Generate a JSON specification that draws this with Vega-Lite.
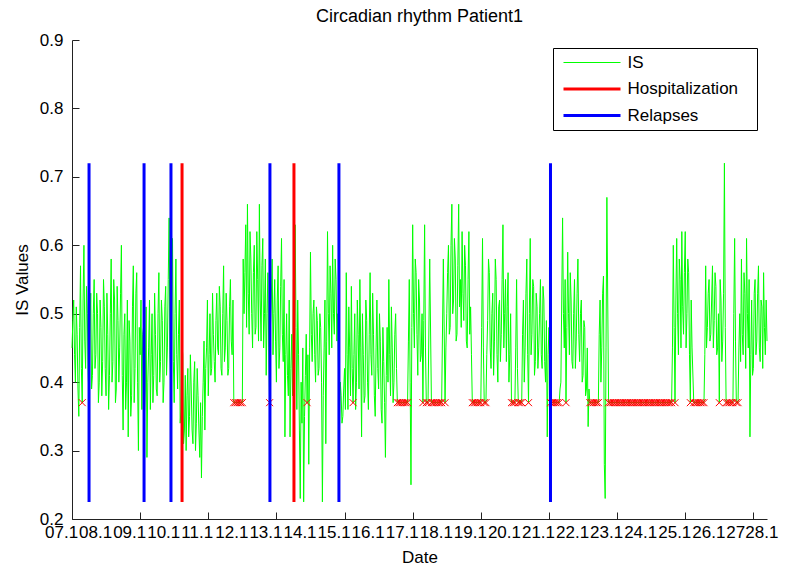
{
"$schema": "https://vega.github.io/schema/vega-lite/v6.json",
"width": 695, "height": 479,
"autosize": {"type": "none"},
"padding": {"left": 72, "top": 40, "right": 24, "bottom": 50},
"background": "white",
"title": {"text": "Circadian rhythm Patient1", "fontSize": 18, "fontWeight": "normal", "font": "Liberation Sans", "color": "black", "offset": 5},
"config": {
  "view": {"stroke": null},
  "axis": {"labelFont": "Liberation Sans", "labelFontSize": 17, "labelColor": "black", "titleFont": "Liberation Sans", "titleFontSize": 17, "titleFontWeight": "normal", "titleColor": "black", "domainColor": "#222222", "tickColor": "#222222", "grid": false, "labelOverlap": false, "labelFlush": false}
},
"datasets": {
"is": [
{"x":0,"v":0.45},{"x":1,"v":0.52},{"x":2,"v":0.40},{"x":3,"v":0.47},{"x":4,"v":0.35},{"x":5,"v":0.57},{"x":6,"v":0.37,"m":1},{"x":7,"v":0.60},{"x":8,"v":0.42},{"x":9,"v":0.50},
{"x":10,"v":0.38},{"x":11,"v":0.53},{"x":12,"v":0.41},{"x":13,"v":0.55},{"x":14,"v":0.44},{"x":15,"v":0.50},{"x":16,"v":0.40},{"x":17,"v":0.48},{"x":18,"v":0.43},{"x":19,"v":0.51},
{"x":20,"v":0.38},{"x":21,"v":0.47},{"x":22,"v":0.41},{"x":23,"v":0.58},{"x":24,"v":0.43},{"x":25,"v":0.52},{"x":26,"v":0.39},{"x":27,"v":0.49},{"x":28,"v":0.45},{"x":29,"v":0.60},
{"x":30,"v":0.33},{"x":31,"v":0.50},{"x":32,"v":0.40},{"x":33,"v":0.32},{"x":34,"v":0.46},{"x":35,"v":0.38},{"x":36,"v":0.57},{"x":37,"v":0.42},{"x":38,"v":0.56},{"x":39,"v":0.30},
{"x":40,"v":0.44},{"x":41,"v":0.36},{"x":42,"v":0.48},{"x":43,"v":0.39},{"x":44,"v":0.29},{"x":45,"v":0.45},{"x":46,"v":0.36},{"x":47,"v":0.50},{"x":48,"v":0.41},{"x":49,"v":0.47},
{"x":50,"v":0.38},{"x":51,"v":0.56},{"x":52,"v":0.43},{"x":53,"v":0.49},{"x":54,"v":0.40},{"x":55,"v":0.54},{"x":56,"v":0.45},{"x":57,"v":0.64},{"x":58,"v":0.40},{"x":59,"v":0.61},
{"x":60,"v":0.37},{"x":61,"v":0.58},{"x":62,"v":0.39},{"x":63,"v":0.52},{"x":64,"v":0.36},{"x":65,"v":0.44},{"x":66,"v":0.33},{"x":67,"v":0.30},{"x":68,"v":0.42},{"x":69,"v":0.35},
{"x":70,"v":0.39},{"x":71,"v":0.31},{"x":72,"v":0.43},{"x":73,"v":0.34},{"x":74,"v":0.38},{"x":75,"v":0.29},{"x":76,"v":0.26},{"x":77,"v":0.40},{"x":78,"v":0.33},{"x":79,"v":0.45},
{"x":80,"v":0.38},{"x":81,"v":0.50},{"x":82,"v":0.42},{"x":83,"v":0.47},{"x":84,"v":0.40},{"x":85,"v":0.53},{"x":86,"v":0.44},{"x":87,"v":0.51},{"x":88,"v":0.41},{"x":89,"v":0.57},
{"x":90,"v":0.45},{"x":91,"v":0.49},{"x":92,"v":0.42},{"x":93,"v":0.55},{"x":94,"v":0.44},{"x":95,"v":0.37,"m":1},{"x":96,"v":0.37,"m":1},{"x":97,"v":0.37,"m":1},{"x":98,"v":0.37,"m":1},{"x":99,"v":0.37,"m":1},
{"x":100,"v":0.37,"m":1},{"x":101,"v":0.50},{"x":102,"v":0.63},{"x":103,"v":0.66},{"x":104,"v":0.47},{"x":105,"v":0.58},{"x":106,"v":0.45},{"x":107,"v":0.60},{"x":108,"v":0.48},{"x":109,"v":0.55},
{"x":110,"v":0.66},{"x":111,"v":0.46},{"x":112,"v":0.61},{"x":113,"v":0.50},{"x":114,"v":0.41},{"x":115,"v":0.56},{"x":116,"v":0.37,"m":1},{"x":117,"v":0.52},{"x":118,"v":0.44},{"x":119,"v":0.55},
{"x":120,"v":0.40},{"x":121,"v":0.57},{"x":122,"v":0.45},{"x":123,"v":0.61},{"x":124,"v":0.43},{"x":125,"v":0.32},{"x":126,"v":0.50},{"x":127,"v":0.38},{"x":128,"v":0.32},{"x":129,"v":0.47},
{"x":130,"v":0.55},{"x":131,"v":0.63},{"x":132,"v":0.36},{"x":133,"v":0.44},{"x":134,"v":0.23},{"x":135,"v":0.34},{"x":136,"v":0.225},{"x":137,"v":0.41},{"x":138,"v":0.37,"m":1},{"x":139,"v":0.28},
{"x":140,"v":0.59},{"x":141,"v":0.43},{"x":142,"v":0.52},{"x":143,"v":0.40},{"x":144,"v":0.49},{"x":145,"v":0.42},{"x":146,"v":0.48},{"x":147,"v":0.225},{"x":148,"v":0.45},{"x":149,"v":0.31},
{"x":150,"v":0.62},{"x":151,"v":0.44},{"x":152,"v":0.53},{"x":153,"v":0.60},{"x":154,"v":0.47},{"x":155,"v":0.55},{"x":156,"v":0.50},{"x":157,"v":0.33},{"x":158,"v":0.38},{"x":159,"v":0.35},
{"x":160,"v":0.42},{"x":161,"v":0.56},{"x":162,"v":0.36},{"x":163,"v":0.45},{"x":164,"v":0.54},{"x":165,"v":0.37,"m":1},{"x":166,"v":0.50},{"x":167,"v":0.40},{"x":168,"v":0.47},{"x":169,"v":0.55},
{"x":170,"v":0.32},{"x":171,"v":0.44},{"x":172,"v":0.38},{"x":173,"v":0.49},{"x":174,"v":0.36},{"x":175,"v":0.56},{"x":176,"v":0.41},{"x":177,"v":0.47},{"x":178,"v":0.35},{"x":179,"v":0.52},
{"x":180,"v":0.39},{"x":181,"v":0.46},{"x":182,"v":0.34},{"x":183,"v":0.43},{"x":184,"v":0.29},{"x":185,"v":0.48},{"x":186,"v":0.55},{"x":187,"v":0.38},{"x":188,"v":0.45},{"x":189,"v":0.40},
{"x":190,"v":0.50},{"x":191,"v":0.37,"m":1},{"x":192,"v":0.37,"m":1},{"x":193,"v":0.37,"m":1},{"x":194,"v":0.37,"m":1},{"x":195,"v":0.37,"m":1},{"x":196,"v":0.37,"m":1},{"x":197,"v":0.37,"m":1},{"x":198,"v":0.55},{"x":199,"v":0.25},
{"x":200,"v":0.63},{"x":201,"v":0.45},{"x":202,"v":0.56},{"x":203,"v":0.41},{"x":204,"v":0.52},{"x":205,"v":0.44},{"x":206,"v":0.37,"m":1},{"x":207,"v":0.63},{"x":208,"v":0.37,"m":1},{"x":209,"v":0.37,"m":1},
{"x":210,"v":0.58},{"x":211,"v":0.37,"m":1},{"x":212,"v":0.37,"m":1},{"x":213,"v":0.37,"m":1},{"x":214,"v":0.37,"m":1},{"x":215,"v":0.37,"m":1},{"x":216,"v":0.37,"m":1},{"x":217,"v":0.37,"m":1},{"x":218,"v":0.58},{"x":219,"v":0.37,"m":1},
{"x":220,"v":0.50},{"x":221,"v":0.60},{"x":222,"v":0.48},{"x":223,"v":0.66},{"x":224,"v":0.52},{"x":225,"v":0.58},{"x":226,"v":0.47},{"x":227,"v":0.66},{"x":228,"v":0.55},{"x":229,"v":0.62},
{"x":230,"v":0.49},{"x":231,"v":0.57},{"x":232,"v":0.45},{"x":233,"v":0.62},{"x":234,"v":0.51},{"x":235,"v":0.37,"m":1},{"x":236,"v":0.37,"m":1},{"x":237,"v":0.37,"m":1},{"x":238,"v":0.37,"m":1},{"x":239,"v":0.37,"m":1},
{"x":240,"v":0.37,"m":1},{"x":241,"v":0.61},{"x":242,"v":0.37,"m":1},{"x":243,"v":0.37,"m":1},{"x":244,"v":0.49},{"x":245,"v":0.56},{"x":246,"v":0.42},{"x":247,"v":0.53},{"x":248,"v":0.46},{"x":249,"v":0.55},
{"x":250,"v":0.40},{"x":251,"v":0.52},{"x":252,"v":0.47},{"x":253,"v":0.63},{"x":254,"v":0.50},{"x":255,"v":0.43},{"x":256,"v":0.56},{"x":257,"v":0.44},{"x":258,"v":0.37,"m":1},{"x":259,"v":0.37,"m":1},
{"x":260,"v":0.37,"m":1},{"x":261,"v":0.55},{"x":262,"v":0.37,"m":1},{"x":263,"v":0.37,"m":1},{"x":264,"v":0.37,"m":1},{"x":265,"v":0.52},{"x":266,"v":0.45},{"x":267,"v":0.58},{"x":268,"v":0.37,"m":1},{"x":269,"v":0.61},
{"x":270,"v":0.47},{"x":271,"v":0.54},{"x":272,"v":0.43},{"x":273,"v":0.51},{"x":274,"v":0.45},{"x":275,"v":0.55},{"x":276,"v":0.42},{"x":277,"v":0.52},{"x":278,"v":0.40},{"x":279,"v":0.32},
{"x":280,"v":0.48},{"x":281,"v":0.37,"m":1},{"x":282,"v":0.37,"m":1},{"x":283,"v":0.37,"m":1},{"x":284,"v":0.37,"m":1},{"x":285,"v":0.37,"m":1},{"x":286,"v":0.37,"m":1},{"x":287,"v":0.40},{"x":288,"v":0.64},{"x":289,"v":0.45},
{"x":290,"v":0.37,"m":1},{"x":291,"v":0.59},{"x":292,"v":0.44},{"x":293,"v":0.52},{"x":294,"v":0.42},{"x":295,"v":0.55},{"x":296,"v":0.46},{"x":297,"v":0.58},{"x":298,"v":0.43},{"x":299,"v":0.52},
{"x":300,"v":0.41},{"x":301,"v":0.48},{"x":302,"v":0.39},{"x":303,"v":0.335},{"x":304,"v":0.37,"m":1},{"x":305,"v":0.37,"m":1},{"x":306,"v":0.37,"m":1},{"x":307,"v":0.37,"m":1},{"x":308,"v":0.37,"m":1},{"x":309,"v":0.37,"m":1},
{"x":310,"v":0.52},{"x":311,"v":0.45},{"x":312,"v":0.555},{"x":313,"v":0.23},{"x":314,"v":0.67},{"x":315,"v":0.37,"m":1},{"x":316,"v":0.37,"m":1},{"x":317,"v":0.37,"m":1},{"x":318,"v":0.37,"m":1},{"x":319,"v":0.37,"m":1},
{"x":320,"v":0.37,"m":1},{"x":321,"v":0.37,"m":1},{"x":322,"v":0.37,"m":1},{"x":323,"v":0.37,"m":1},{"x":324,"v":0.37,"m":1},{"x":325,"v":0.37,"m":1},{"x":326,"v":0.37,"m":1},{"x":327,"v":0.37,"m":1},{"x":328,"v":0.37,"m":1},{"x":329,"v":0.37,"m":1},
{"x":330,"v":0.37,"m":1},{"x":331,"v":0.37,"m":1},{"x":332,"v":0.37,"m":1},{"x":333,"v":0.37,"m":1},{"x":334,"v":0.37,"m":1},{"x":335,"v":0.37,"m":1},{"x":336,"v":0.37,"m":1},{"x":337,"v":0.37,"m":1},{"x":338,"v":0.37,"m":1},{"x":339,"v":0.37,"m":1},
{"x":340,"v":0.37,"m":1},{"x":341,"v":0.37,"m":1},{"x":342,"v":0.37,"m":1},{"x":343,"v":0.37,"m":1},{"x":344,"v":0.37,"m":1},{"x":345,"v":0.37,"m":1},{"x":346,"v":0.37,"m":1},{"x":347,"v":0.37,"m":1},{"x":348,"v":0.37,"m":1},{"x":349,"v":0.37,"m":1},
{"x":350,"v":0.37,"m":1},{"x":351,"v":0.37,"m":1},{"x":352,"v":0.37,"m":1},{"x":353,"v":0.60},{"x":354,"v":0.37,"m":1},{"x":355,"v":0.61},{"x":356,"v":0.44},{"x":357,"v":0.55},{"x":358,"v":0.62},{"x":359,"v":0.47},
{"x":360,"v":0.62},{"x":361,"v":0.50},{"x":362,"v":0.56},{"x":363,"v":0.37,"m":1},{"x":364,"v":0.45},{"x":365,"v":0.37,"m":1},{"x":366,"v":0.37,"m":1},{"x":367,"v":0.37,"m":1},{"x":368,"v":0.37,"m":1},{"x":369,"v":0.37,"m":1},
{"x":370,"v":0.37,"m":1},{"x":371,"v":0.37,"m":1},{"x":372,"v":0.57},{"x":373,"v":0.48},{"x":374,"v":0.55},{"x":375,"v":0.47},{"x":376,"v":0.57},{"x":377,"v":0.49},{"x":378,"v":0.54},{"x":379,"v":0.45},
{"x":380,"v":0.37,"m":1},{"x":381,"v":0.52},{"x":382,"v":0.46},{"x":383,"v":0.72},{"x":384,"v":0.37,"m":1},{"x":385,"v":0.37,"m":1},{"x":386,"v":0.37,"m":1},{"x":387,"v":0.37,"m":1},{"x":388,"v":0.37,"m":1},{"x":389,"v":0.61},
{"x":390,"v":0.37,"m":1},{"x":391,"v":0.37,"m":1},{"x":392,"v":0.50},{"x":393,"v":0.58},{"x":394,"v":0.44},{"x":395,"v":0.53},{"x":396,"v":0.61},{"x":397,"v":0.45},{"x":398,"v":0.32},{"x":399,"v":0.52},
{"x":400,"v":0.42},{"x":401,"v":0.55},{"x":402,"v":0.46},{"x":403,"v":0.57},{"x":404,"v":0.43},{"x":405,"v":0.51},{"x":406,"v":0.56},{"x":407,"v":0.44},{"x":408,"v":0.46},
{"x":0.5,"v":0.49},{"x":1.5,"v":0.44},{"x":2.5,"v":0.51},{"x":3.5,"v":0.39},{"x":4.5,"v":0.48},{"x":5.5,"v":0.42},{"x":6.5,"v":0.52},{"x":7.5,"v":0.46},{"x":8.5,"v":0.54},{"x":9.5,"v":0.41},
{"x":10.5,"v":0.47},{"x":11.5,"v":0.39},{"x":12.5,"v":0.50},{"x":13.5,"v":0.42},{"x":14.5,"v":0.53},{"x":15.5,"v":0.37},{"x":16.5,"v":0.52},{"x":17.5,"v":0.38},{"x":18.5,"v":0.55},{"x":19.5,"v":0.42},
{"x":20.5,"v":0.53},{"x":21.5,"v":0.36},{"x":22.5,"v":0.50},{"x":23.5,"v":0.40},{"x":24.5,"v":0.55},{"x":25.5,"v":0.37},{"x":26.5,"v":0.54},{"x":27.5,"v":0.40},{"x":28.5,"v":0.53},{"x":29.5,"v":0.41},
{"x":30.5,"v":0.47},{"x":31.5,"v":0.36},{"x":32.5,"v":0.52},{"x":33.5,"v":0.49},{"x":34.5,"v":0.35},{"x":35.5,"v":0.51},{"x":36.5,"v":0.37},{"x":37.5,"v":0.53},{"x":38.5,"v":0.40},{"x":39.5,"v":0.48},
{"x":40.5,"v":0.52},{"x":41.5,"v":0.47},{"x":42.5,"v":0.35},{"x":43.5,"v":0.51},{"x":44.5,"v":0.40},{"x":45.5,"v":0.52},{"x":46.5,"v":0.44},{"x":47.5,"v":0.37},{"x":48.5,"v":0.53},{"x":49.5,"v":0.39},
{"x":50.5,"v":0.50},{"x":51.5,"v":0.40},{"x":52.5,"v":0.52},{"x":53.5,"v":0.37},{"x":54.5,"v":0.51},{"x":55.5,"v":0.41},{"x":56.5,"v":0.55},{"x":57.5,"v":0.44},{"x":58.5,"v":0.52},{"x":59.5,"v":0.43},
{"x":60.5,"v":0.50},{"x":61.5,"v":0.44},{"x":62.5,"v":0.47},{"x":63.5,"v":0.34},{"x":64.5,"v":0.46},{"x":65.5,"v":0.31},{"x":66.5,"v":0.41},{"x":67.5,"v":0.38},{"x":68.5,"v":0.32},{"x":69.5,"v":0.44},
{"x":70.5,"v":0.33},{"x":71.5,"v":0.40},{"x":72.5,"v":0.30},{"x":73.5,"v":0.42},{"x":74.5,"v":0.33},{"x":75.5,"v":0.37},{"x":76.5,"v":0.35},{"x":77.5,"v":0.46},{"x":78.5,"v":0.42},{"x":79.5,"v":0.52},
{"x":80.5,"v":0.44},{"x":81.5,"v":0.41},{"x":82.5,"v":0.53},{"x":83.5,"v":0.43},{"x":84.5,"v":0.49},{"x":85.5,"v":0.45},{"x":86.5,"v":0.54},{"x":87.5,"v":0.42},{"x":88.5,"v":0.50},{"x":89.5,"v":0.43},
{"x":90.5,"v":0.53},{"x":91.5,"v":0.41},{"x":92.5,"v":0.51},{"x":93.5,"v":0.46},{"x":94.5,"v":0.52},{"x":100.5,"v":0.58},{"x":101.5,"v":0.56},{"x":102.5,"v":0.48},{"x":103.5,"v":0.53},{"x":104.5,"v":0.62},
{"x":105.5,"v":0.50},{"x":106.5,"v":0.56},{"x":107.5,"v":0.47},{"x":108.5,"v":0.62},{"x":109.5,"v":0.46},{"x":110.5,"v":0.52},{"x":111.5,"v":0.57},{"x":112.5,"v":0.45},{"x":113.5,"v":0.58},{"x":114.5,"v":0.50},
{"x":115.5,"v":0.45},{"x":116.5,"v":0.48},{"x":117.5,"v":0.58},{"x":118.5,"v":0.50},{"x":119.5,"v":0.46},{"x":120.5,"v":0.52},{"x":121.5,"v":0.42},{"x":122.5,"v":0.54},{"x":123.5,"v":0.47},{"x":124.5,"v":0.55},
{"x":125.5,"v":0.44},{"x":126.5,"v":0.41},{"x":127.5,"v":0.52},{"x":128.5,"v":0.42},{"x":129.5,"v":0.38},{"x":130.5,"v":0.44},{"x":131.5,"v":0.48},{"x":132.5,"v":0.52},{"x":133.5,"v":0.33},{"x":134.5,"v":0.40},
{"x":135.5,"v":0.45},{"x":136.5,"v":0.35},{"x":137.5,"v":0.47},{"x":138.5,"v":0.44},{"x":139.5,"v":0.45},{"x":140.5,"v":0.47},{"x":141.5,"v":0.50},{"x":142.5,"v":0.44},{"x":143.5,"v":0.51},{"x":144.5,"v":0.41},
{"x":145.5,"v":0.50},{"x":146.5,"v":0.40},{"x":147.5,"v":0.38},{"x":148.5,"v":0.52},{"x":149.5,"v":0.46},{"x":150.5,"v":0.50},{"x":151.5,"v":0.57},{"x":152.5,"v":0.45},{"x":153.5,"v":0.50},{"x":154.5,"v":0.58},
{"x":155.5,"v":0.46},{"x":156.5,"v":0.41},{"x":157.5,"v":0.40},{"x":158.5,"v":0.34},{"x":159.5,"v":0.39},{"x":160.5,"v":0.36},{"x":161.5,"v":0.44},{"x":162.5,"v":0.51},{"x":163.5,"v":0.38},{"x":164.5,"v":0.42},
{"x":165.5,"v":0.44},{"x":166.5,"v":0.36},{"x":167.5,"v":0.52},{"x":168.5,"v":0.39},{"x":169.5,"v":0.45},{"x":170.5,"v":0.50},{"x":171.5,"v":0.37},{"x":172.5,"v":0.52},{"x":173.5,"v":0.40},{"x":174.5,"v":0.47},
{"x":175.5,"v":0.44},{"x":176.5,"v":0.53},{"x":177.5,"v":0.38},{"x":178.5,"v":0.45},{"x":179.5,"v":0.42},{"x":180.5,"v":0.50},{"x":181.5,"v":0.36},{"x":182.5,"v":0.48},{"x":183.5,"v":0.37},{"x":184.5,"v":0.41},
{"x":185.5,"v":0.40},{"x":186.5,"v":0.44},{"x":187.5,"v":0.51},{"x":188.5,"v":0.37},{"x":189.5,"v":0.47},{"x":190.5,"v":0.42},{"x":197.5,"v":0.46},{"x":198.5,"v":0.40},{"x":199.5,"v":0.48},{"x":200.5,"v":0.50},
{"x":201.5,"v":0.58},{"x":202.5,"v":0.47},{"x":203.5,"v":0.55},{"x":204.5,"v":0.43},{"x":205.5,"v":0.50},{"x":206.5,"v":0.49},{"x":207.5,"v":0.45},{"x":219.5,"v":0.45},{"x":220.5,"v":0.56},{"x":221.5,"v":0.47},
{"x":222.5,"v":0.60},{"x":223.5,"v":0.50},{"x":224.5,"v":0.61},{"x":225.5,"v":0.46},{"x":226.5,"v":0.57},{"x":227.5,"v":0.51},{"x":228.5,"v":0.48},{"x":229.5,"v":0.53},{"x":230.5,"v":0.60},{"x":231.5,"v":0.46},
{"x":232.5,"v":0.55},{"x":233.5,"v":0.47},{"x":234.5,"v":0.44},{"x":240.5,"v":0.48},{"x":241.5,"v":0.45},{"x":243.5,"v":0.44},{"x":244.5,"v":0.58},{"x":245.5,"v":0.45},{"x":246.5,"v":0.50},{"x":247.5,"v":0.41},
{"x":248.5,"v":0.58},{"x":249.5,"v":0.44},{"x":250.5,"v":0.51},{"x":251.5,"v":0.43},{"x":252.5,"v":0.55},{"x":253.5,"v":0.45},{"x":254.5,"v":0.55},{"x":255.5,"v":0.51},{"x":256.5,"v":0.40},{"x":257.5,"v":0.50},
{"x":260.5,"v":0.45},{"x":261.5,"v":0.42},{"x":264.5,"v":0.47},{"x":265.5,"v":0.40},{"x":266.5,"v":0.53},{"x":267.5,"v":0.44},{"x":268.5,"v":0.50},{"x":269.5,"v":0.44},{"x":270.5,"v":0.55},{"x":271.5,"v":0.41},
{"x":272.5,"v":0.53},{"x":273.5,"v":0.42},{"x":274.5,"v":0.50},{"x":275.5,"v":0.44},{"x":276.5,"v":0.54},{"x":277.5,"v":0.43},{"x":278.5,"v":0.49},{"x":279.5,"v":0.44},{"x":280.5,"v":0.40},{"x":286.5,"v":0.39},
{"x":287.5,"v":0.52},{"x":288.5,"v":0.50},{"x":289.5,"v":0.55},{"x":290.5,"v":0.48},{"x":291.5,"v":0.50},{"x":292.5,"v":0.56},{"x":293.5,"v":0.43},{"x":294.5,"v":0.50},{"x":295.5,"v":0.42},{"x":296.5,"v":0.53},
{"x":297.5,"v":0.47},{"x":298.5,"v":0.50},{"x":299.5,"v":0.40},{"x":300.5,"v":0.49},{"x":301.5,"v":0.38},{"x":302.5,"v":0.45},{"x":303.5,"v":0.39},{"x":309.5,"v":0.47},{"x":310.5,"v":0.40},{"x":311.5,"v":0.53},
{"x":312.5,"v":0.28},{"x":313.5,"v":0.45},{"x":352.5,"v":0.45},{"x":353.5,"v":0.48},{"x":354.5,"v":0.52},{"x":355.5,"v":0.50},{"x":356.5,"v":0.58},{"x":357.5,"v":0.45},{"x":358.5,"v":0.51},{"x":359.5,"v":0.56},
{"x":360.5,"v":0.45},{"x":361.5,"v":0.58},{"x":362.5,"v":0.44},{"x":363.5,"v":0.52},{"x":371.5,"v":0.44},{"x":372.5,"v":0.45},{"x":373.5,"v":0.53},{"x":374.5,"v":0.46},{"x":375.5,"v":0.52},{"x":376.5,"v":0.45},
{"x":377.5,"v":0.56},{"x":378.5,"v":0.44},{"x":379.5,"v":0.50},{"x":380.5,"v":0.55},{"x":381.5,"v":0.43},{"x":382.5,"v":0.53},{"x":383.5,"v":0.48},{"x":388.5,"v":0.50},{"x":389.5,"v":0.46},{"x":391.5,"v":0.45},
{"x":392.5,"v":0.43},{"x":393.5,"v":0.47},{"x":394.5,"v":0.56},{"x":395.5,"v":0.42},{"x":396.5,"v":0.50},{"x":397.5,"v":0.55},{"x":398.5,"v":0.44},{"x":399.5,"v":0.41},{"x":400.5,"v":0.53},{"x":401.5,"v":0.44},
{"x":402.5,"v":0.53},{"x":403.5,"v":0.45},{"x":404.5,"v":0.52},{"x":405.5,"v":0.42},{"x":406.5,"v":0.48},{"x":407.5,"v":0.52}
],
"events": [
{"x":10.0,"series":"Relapses"},{"x":42.3,"series":"Relapses"},{"x":58.1,"series":"Relapses"},{"x":116.2,"series":"Relapses"},{"x":156.7,"series":"Relapses"},{"x":280.9,"series":"Relapses"},
{"x":64.6,"series":"Hospitalization"},{"x":130.3,"series":"Hospitalization"}
],
"xlabels": [
{"x":0,"t":"07.1"},{"x":20,"t":"08.1"},{"x":40,"t":"09.1"},{"x":60,"t":"10.1"},{"x":80,"t":"11.1"},{"x":100,"t":"12.1"},{"x":120,"t":"13.1"},{"x":140,"t":"14.1"},{"x":160,"t":"15.1"},{"x":180,"t":"16.1"},
{"x":200,"t":"17.1"},{"x":220,"t":"18.1"},{"x":240,"t":"19.1"},{"x":260,"t":"20.1"},{"x":280,"t":"21.1"},{"x":300,"t":"22.1"},{"x":320,"t":"23.1"},{"x":340,"t":"24.1"},{"x":360,"t":"25.1"},{"x":380,"t":"26.1"},
{"x":400,"t":"2728.1"}
]
},
"layer": [
{
  "data": {"name": "is"},
  "mark": {"type": "line", "strokeWidth": 1},
  "encoding": {
    "x": {"field": "x", "type": "quantitative",
      "scale": {"domain": [0, 408], "nice": false, "zero": false},
      "axis": {"title": "Date", "values": [0,20,40,60,80,100,120,140,160,180,200,220,240,260,280,300,320,340,360,380,400,405],
        "labels": false, "tickSize": -7, "titlePadding": 30}},
    "y": {"field": "v", "type": "quantitative",
      "scale": {"domain": [0.2, 0.9], "nice": false, "zero": false},
      "axis": {"title": "IS Values", "values": [0.2,0.3,0.4,0.5,0.6,0.7,0.8,0.9], "format": ".1f",
        "labelOverlap": false, "labelFlush": false, "tickSize": -7, "labelPadding": 16, "titlePadding": 8}},
    "color": {"datum": "IS", "type": "nominal", "title": null,
      "scale": {"domain": ["IS", "Hospitalization", "Relapses"], "range": ["#00ff00", "#ff0000", "#0000ff"]},
      "legend": {"title": " ", "titleOrient": "right", "titlePadding": 13, "titleFontSize": 17, "titleFont": "Liberation Sans",
        "orient": "none", "legendX": 481, "legendY": 8, "columns": 1,
        "symbolType": "M-3,0H3", "symbolSize": 361, "symbolStrokeWidth": 3,
        "labelFont": "Liberation Sans", "labelFontSize": 17, "labelColor": "black",
        "strokeColor": "black", "fillColor": "white", "padding": 6, "rowPadding": 8.5, "labelOffset": 27, "symbolOffset": 24.5,
        "encode": {"symbols": {"update": {"strokeWidth": {"signal": "datum.value === 'IS' ? 1 : 3"}}}}}}
  }
},
{
  "data": {"name": "is"},
  "transform": [{"filter": "datum.m == 1"}],
  "mark": {"type": "point", "shape": "M-1,-1L1,1M-1,1L1,-1", "filled": false, "stroke": "#ff0000", "strokeWidth": 1, "size": 49, "opacity": 1},
  "encoding": {
    "x": {"field": "x", "type": "quantitative"},
    "y": {"field": "v", "type": "quantitative"}
  }
},
{
  "data": {"name": "events"},
  "mark": {"type": "rule", "strokeWidth": 3},
  "encoding": {
    "x": {"field": "x", "type": "quantitative"},
    "y": {"datum": 0.225},
    "y2": {"datum": 0.72},
    "color": {"field": "series", "type": "nominal", "title": null, "legend": {"title": " "}}
  }
},
{
  "data": {"name": "xlabels"},
  "mark": {"type": "text", "align": "left", "baseline": "top", "dx": -27, "dy": 6, "font": "Liberation Sans", "fontSize": 17, "color": "black"},
  "encoding": {
    "x": {"field": "x", "type": "quantitative"},
    "y": {"datum": 0.2},
    "text": {"field": "t"}
  }
}
]
}
